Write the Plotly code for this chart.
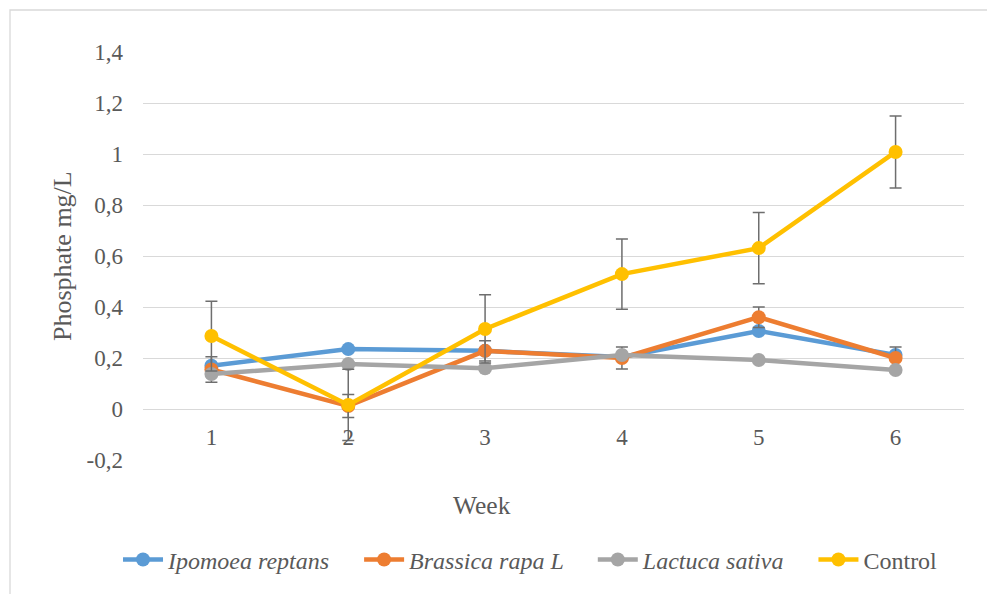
import plotly.graph_objects as go

weeks = [1, 2, 3, 4, 5, 6]
ipomoea = [0.170, 0.235, 0.228, 0.204, 0.306, 0.212]
brassica = [0.155, 0.012, 0.228, 0.200, 0.360, 0.200]
lactuca = [0.137, 0.176, 0.160, 0.212, 0.192, 0.153]
control = [0.286, 0.016, 0.314, 0.529, 0.631, 1.008]

brassica_err = [0.050, 0.045, 0.040, 0.043, 0.040, 0.043]
control_err = [0.137, 0.140, 0.134, 0.138, 0.140, 0.141]

y_ticks = [-0.2, 0, 0.2, 0.4, 0.6, 0.8, 1.0, 1.2, 1.4]
y_tick_text = ["-0,2", "0", "0,2", "0,4", "0,6", "0,8", "1", "1,2", "1,4"]
y_range = [-0.2, 1.4]

FONT = "'Times New Roman', 'Liberation Serif', Times, serif"
TXT = "#595959"
GRID = "#D9D9D9"
ERR = "#6E6E6E"
GAP = "\u2003"  # extra spacing after a legend entry

series = [
    ("<i>Ipomoea reptans</i>" + GAP, ipomoea, None, "#5B9BD5"),
    ("<i>Brassica rapa L</i>" + GAP, brassica, brassica_err, "#ED7D31"),
    ("<i>Lactuca sativa</i>" + GAP, lactuca, None, "#A5A5A5"),
    ("Control", control, control_err, "#FFC000"),
]

fig = go.Figure()
for name, vals, err, color in series:
    err_opts = (dict(type="data", array=err, visible=True,
                     color=ERR, thickness=1.5, width=6)
                if err is not None else dict(visible=False))
    fig.add_trace(go.Scatter(
        x=weeks, y=vals, name=name, mode="lines+markers",
        line=dict(color=color, width=4.5),
        marker=dict(color=color, size=14),
        error_y=err_opts,
    ))

# x axis sits on the zero line, as a fraction of the y range
zero_pos = (0 - y_range[0]) / (y_range[1] - y_range[0])

fig.update_layout(
    width=987, height=594,
    margin=dict(l=143, r=23, t=52, b=134),
    paper_bgcolor="white", plot_bgcolor="white",
    font=dict(family=FONT, color=TXT, size=23),
    showlegend=True,
    legend=dict(orientation="h", x=0.472, xanchor="center",
                y=-0.245, yanchor="middle",
                font=dict(family=FONT, size=24, color=TXT),
                itemwidth=40, tracegroupgap=0),
    xaxis=dict(range=[0.5, 6.5], tickmode="array", tickvals=weeks,
               ticktext=[str(w) for w in weeks],
               showgrid=False, zeroline=False, showline=False,
               anchor="free", position=zero_pos, ticks="",
               ticklabelstandoff=12,
               tickfont=dict(family=FONT, size=23, color=TXT)),
    yaxis=dict(range=y_range, tickmode="array", tickvals=y_ticks,
               ticktext=y_tick_text, showgrid=True, gridcolor=GRID,
               gridwidth=1.3, zeroline=False, showline=False, ticks="",
               ticklabelstandoff=19,
               tickfont=dict(family=FONT, size=23, color=TXT)),
    annotations=[
        dict(text="Phosphate mg/L", textangle=-90, xref="paper", yref="paper",
             x=(62 - 143) / 821, y=0.5, xanchor="center", yanchor="middle",
             showarrow=False, font=dict(family=FONT, size=26, color=TXT)),
        dict(text="Week", xref="paper", yref="paper",
             x=(482 - 143) / 821, y=(460 - 505) / 408,
             xanchor="center", yanchor="middle",
             showarrow=False, font=dict(family=FONT, size=25.5, color=TXT)),
    ],
    shapes=[
        dict(type="rect", xref="paper", yref="paper",
             x0=(10 - 143) / 821, x1=1.5, y0=-1.0, y1=(460 - 10) / 408,
             line=dict(color=GRID, width=1.3), fillcolor="rgba(0,0,0,0)",
             layer="below"),
    ],
)

fig.write_html("out.html")
